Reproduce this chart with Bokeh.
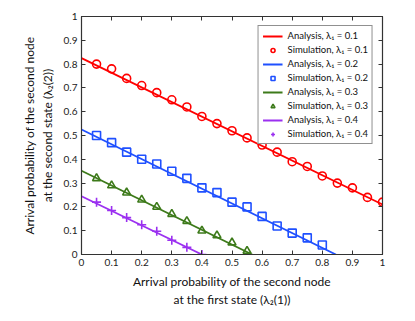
from bokeh.plotting import figure
from bokeh.models import (LinearAxis, FixedTicker, NumeralTickFormatter, Range1d,
                          Legend, LegendItem)
from bokeh.embed import file_html
from bokeh.resources import INLINE

# ---- data ----
sim_x = [0.05, 0.1, 0.15, 0.2, 0.25, 0.3, 0.35, 0.4, 0.45, 0.5,
         0.55, 0.6, 0.65, 0.7, 0.75, 0.8, 0.85, 0.9, 0.95, 1.0]
sim1 = [0.80, 0.78, 0.74, 0.71, 0.68, 0.65, 0.62, 0.58, 0.55, 0.52,
        0.49, 0.46, 0.43, 0.39, 0.37, 0.33, 0.30, 0.28, 0.24, 0.22]
sim2_x = [0.05, 0.1, 0.15, 0.2, 0.25, 0.3, 0.35, 0.4, 0.45, 0.5, 0.55, 0.6, 0.65, 0.7, 0.75, 0.8]
sim2 = [0.50, 0.47, 0.43, 0.40, 0.38, 0.35, 0.32, 0.28, 0.26, 0.22, 0.20, 0.16, 0.12, 0.09, 0.07, 0.04]
sim3_x = [0.05, 0.1, 0.15, 0.2, 0.25, 0.3, 0.35, 0.4, 0.45, 0.5, 0.55]
sim3 = [0.32, 0.29, 0.26, 0.23, 0.20, 0.17, 0.14, 0.10, 0.08, 0.05, 0.015]
sim4_x = [0.05, 0.1, 0.15, 0.2, 0.25, 0.3, 0.35, 0.4]
sim4 = [0.22, 0.185, 0.155, 0.125, 0.098, 0.06, 0.03, 0.0]

ana1_x = [0.0, 1.0]
ana1 = [0.825, 0.21]
ana2_x = [0.0, 0.845]
ana2 = [0.525, 0.0]
ana3_x = [0.0, 0.567]
ana3 = [0.352, 0.0]
ana4_x = [0.0, 0.4]
ana4 = [0.245, 0.0]

ticks = [0, 0.1, 0.2, 0.3, 0.4, 0.5, 0.6, 0.7, 0.8, 0.9, 1.0]

colors = ["#ff0000", "#1f50ff", "#3d7a1a", "#9b30f0"]
FONT = "Lato"

p = figure(width=399, height=309, output_backend="svg", toolbar_location=None,
           x_range=Range1d(0, 1), y_range=Range1d(0, 1),
           min_border_left=81, min_border_right=17, min_border_top=16, min_border_bottom=55)
p.background_fill_color = "white"
p.border_fill_color = "white"
p.outline_line_color = "#333333"
p.outline_line_width = 1.2
p.grid.visible = False

for ax in [p.xaxis[0], p.yaxis[0]]:
    ax.ticker = FixedTicker(ticks=ticks)
    ax.formatter = NumeralTickFormatter(format="0.[0]")
    ax.major_tick_in = 4
    ax.major_tick_out = 0
    ax.minor_tick_line_color = None
    ax.axis_line_color = "#333333"
    ax.major_tick_line_color = "#333333"
    ax.major_label_text_font = FONT
    ax.major_label_text_font_size = "10px"
    ax.major_label_text_color = "#222222"
    ax.axis_label_text_font = FONT
    ax.axis_label_text_font_size = "12px"
    ax.axis_label_text_font_style = "normal"
    ax.axis_label_text_color = "#111111"
    ax.major_label_standoff = 4

p.xaxis.axis_label = "Arrival probability of the second node\nat the first state (λ₂(1))"
p.yaxis.axis_label = "Arrival probability of the second node\nat the second state (λ₂(2))"
p.xaxis.axis_label_standoff = 5
p.yaxis.axis_label_standoff = 6

for loc in ["above", "right"]:
    ax = LinearAxis(ticker=FixedTicker(ticks=ticks))
    ax.major_tick_in = 4
    ax.major_tick_out = 0
    ax.minor_tick_line_color = None
    ax.axis_line_color = "#333333"
    ax.major_tick_line_color = "#333333"
    ax.major_label_text_color = None
    ax.major_label_text_font_size = "1px"
    ax.major_label_standoff = 0
    p.add_layout(ax, loc)

sims = [(sim_x, sim1), (sim2_x, sim2), (sim3_x, sim3), (sim4_x, sim4)]
anas = [(ana1_x, ana1), (ana2_x, ana2), (ana3_x, ana3), (ana4_x, ana4)]
lams = ["0.1", "0.2", "0.3", "0.4"]
markers = ["circle", "square", "triangle", "cross"]
items = []
for i in range(4):
    ax_, ay_ = anas[i]
    sx, sy = sims[i]
    r_line = p.line(ax_, ay_, line_color=colors[i], line_width=1.8)
    r_sc = p.scatter(sx, sy, marker=markers[i], size=8 if markers[i] != "cross" else 9,
                     line_color=colors[i], fill_color=None, line_width=1.6)
    items.append(LegendItem(label=f"Analysis, λ₁ = {lams[i]}", renderers=[r_line]))
    items.append(LegendItem(label=f"Simulation, λ₁ = {lams[i]}", renderers=[r_sc]))

legend = Legend(items=items, location="top_right")
legend.label_text_font = FONT
legend.label_text_font_size = "9.5px"
legend.label_text_color = "#111111"
legend.label_height = 10
legend.glyph_height = 10
legend.glyph_width = 20
legend.spacing = 3
legend.padding = 4
legend.margin = 9
legend.label_standoff = 5
legend.border_line_color = "#222222"
legend.border_line_width = 1.2
legend.background_fill_alpha = 1
p.add_layout(legend)

open("out.html", "w").write(file_html(p, INLINE))
